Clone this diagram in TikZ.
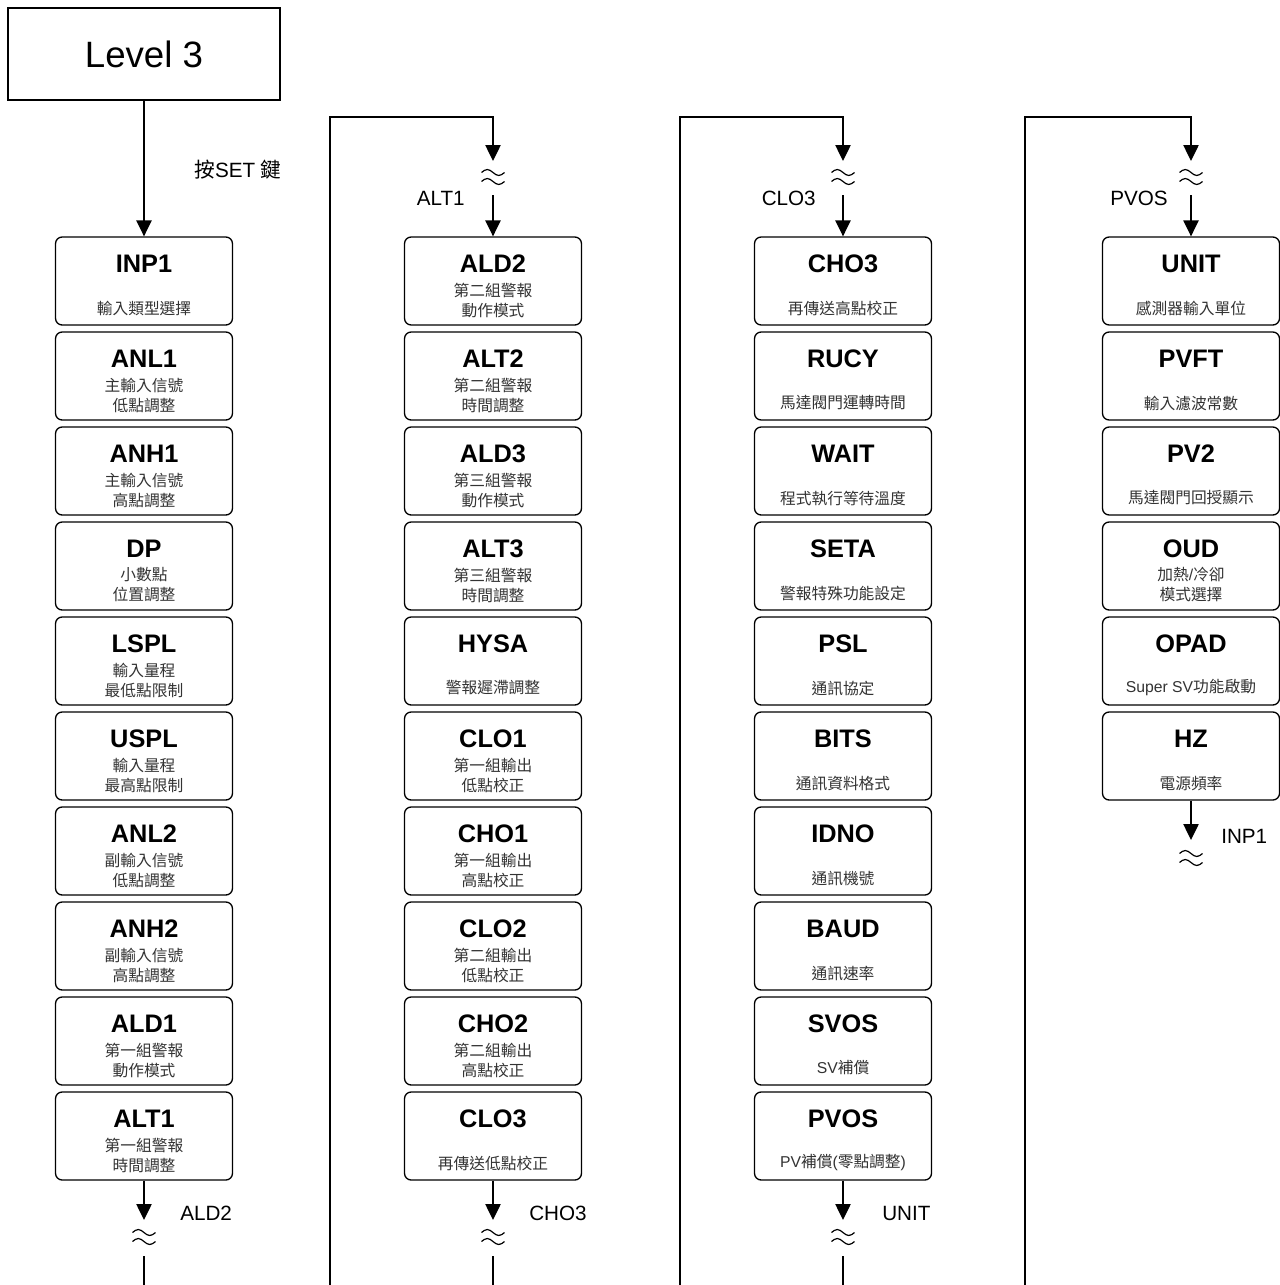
\documentclass[tikz,border=0pt]{standalone}
\usepackage{fontspec}
\setmainfont{Liberation Sans}
\newfontfamily\cjk{Noto Sans CJK TC}
\usetikzlibrary{arrows.meta}
\tikzset{
 boxst/.style={draw, line width=1pt, rounded corners=5pt, minimum width=132.75pt, minimum height=66pt, inner sep=0pt, fill=white},
 titlest/.style={font=\fontsize{19}{22}\selectfont\bfseries, inner sep=0pt},
 subst/.style={font=\fontsize{11.8}{15}\selectfont, text=black!80, align=center, inner sep=0pt},
 lab/.style={font=\fontsize{15.5}{18}\selectfont, inner sep=0pt},
 conn/.style={line width=1pt},
 arr/.style={line width=1pt, -{Triangle[width=11.5pt,length=12pt]}},
 wv/.style={line width=0.9pt},
}
% one-line subtitle box
\newcommand\boxA[5]{%
 \node[boxst] (#1) at (#2,#3+44) {};
 \node[titlest] (#1-t) at (#2,#3+27) {#4};
 \node[subst] (#1-s) at (#2,#3+71) {#5};
}
% two-line subtitle box
\newcommand\boxB[5]{%
 \node[boxst] (#1) at (#2,#3+44) {};
 \node[titlest] (#1-t) at (#2,#3+27) {#4};
 \node[subst] (#1-s) at (#2,#3+63) {#5};
}
\newcommand\wvy[3]{%
 \coordinate (#1) at (#2,#3);
 \draw[wv] ([shift={(-11.5,-4.5)}]#1) sin ++(5.75,-3) cos ++(5.75,3) sin ++(5.75,3) cos ++(5.75,-3);
 \draw[wv] ([shift={(-11.5,4.5)}]#1) sin ++(5.75,-3) cos ++(5.75,3) sin ++(5.75,3) cos ++(5.75,-3);
}
\begin{document}
\begin{tikzpicture}[x=0.75pt,y=-0.75pt]
\useasboundingbox (0,0) rectangle (1280,1285);
% title
\node[draw, line width=1pt, minimum width=204pt, minimum height=69pt, inner sep=0pt,
      font=\fontsize{27.5}{30}\selectfont] (lvl) at (144,54) {Level 3};
\node[lab] (setlab) at (238,170) {\cjk 按\normalfont SET \cjk 鍵};

% column 1
\boxA{inp1}{144}{237}{INP1}{\cjk 輸入類型選擇}
\boxB{anl1}{144}{332}{ANL1}{\cjk 主輸入信號\\\cjk 低點調整}
\boxB{anh1}{144}{427}{ANH1}{\cjk 主輸入信號\\\cjk 高點調整}
\boxB{dp}{144}{522}{DP}{\cjk 小數點\\\cjk 位置調整}
\boxB{lspl}{144}{617}{LSPL}{\cjk 輸入量程\\\cjk 最低點限制}
\boxB{uspl}{144}{712}{USPL}{\cjk 輸入量程\\\cjk 最高點限制}
\boxB{anl2}{144}{807}{ANL2}{\cjk 副輸入信號\\\cjk 低點調整}
\boxB{anh2}{144}{902}{ANH2}{\cjk 副輸入信號\\\cjk 高點調整}
\boxB{ald1}{144}{997}{ALD1}{\cjk 第一組警報\\\cjk 動作模式}
\boxB{alt1}{144}{1092}{ALT1}{\cjk 第一組警報\\\cjk 時間調整}

% column 2
\boxB{ald2}{493}{237}{ALD2}{\cjk 第二組警報\\\cjk 動作模式}
\boxB{alt2}{493}{332}{ALT2}{\cjk 第二組警報\\\cjk 時間調整}
\boxB{ald3}{493}{427}{ALD3}{\cjk 第三組警報\\\cjk 動作模式}
\boxB{alt3}{493}{522}{ALT3}{\cjk 第三組警報\\\cjk 時間調整}
\boxA{hysa}{493}{617}{HYSA}{\cjk 警報遲滯調整}
\boxB{clo1}{493}{712}{CLO1}{\cjk 第一組輸出\\\cjk 低點校正}
\boxB{cho1}{493}{807}{CHO1}{\cjk 第一組輸出\\\cjk 高點校正}
\boxB{clo2}{493}{902}{CLO2}{\cjk 第二組輸出\\\cjk 低點校正}
\boxB{cho2}{493}{997}{CHO2}{\cjk 第二組輸出\\\cjk 高點校正}
\boxA{clo3}{493}{1092}{CLO3}{\cjk 再傳送低點校正}

% column 3
\boxA{cho3}{843}{237}{CHO3}{\cjk 再傳送高點校正}
\boxA{rucy}{843}{332}{RUCY}{\cjk 馬達閥門運轉時間}
\boxA{wait}{843}{427}{WAIT}{\cjk 程式執行等待溫度}
\boxA{seta}{843}{522}{SETA}{\cjk 警報特殊功能設定}
\boxA{psl}{843}{617}{PSL}{\cjk 通訊協定}
\boxA{bits}{843}{712}{BITS}{\cjk 通訊資料格式}
\boxA{idno}{843}{807}{IDNO}{\cjk 通訊機號}
\boxA{baud}{843}{902}{BAUD}{\cjk 通訊速率}
\boxA{svos}{843}{997}{SVOS}{SV\cjk 補償}
\boxA{pvos}{843}{1092}{PVOS}{PV\cjk 補償\normalfont(\cjk 零點調整\normalfont)}

% column 4
\boxA{unit}{1191}{237}{UNIT}{\cjk 感測器輸入單位}
\boxA{pvft}{1191}{332}{PVFT}{\cjk 輸入濾波常數}
\boxA{pv2}{1191}{427}{PV2}{\cjk 馬達閥門回授顯示}
\boxB{oud}{1191}{522}{OUD}{\cjk 加熱\normalfont/\cjk 冷卻\\\cjk 模式選擇}
\boxA{opad}{1191}{617}{OPAD}{Super SV\cjk 功能啟動}
\boxA{hz}{1191}{712}{HZ}{\cjk 電源頻率}

% Level 3 -> INP1
\draw[arr] (lvl) -- (inp1);

% bottoms of columns 1-3
\coordinate (b1t) at (144,1220); \wvy{b1w}{144}{1237}
\coordinate (b1a) at (144,1256); \coordinate (b1b) at (144,1285);
\draw[arr] (alt1) -- (b1t); \draw[conn] (b1a) -- (b1b);
\node[lab, anchor=west] (l-ald2) at (180,1213) {ALD2};

\coordinate (b2t) at (493,1220); \wvy{b2w}{493}{1237}
\coordinate (b2a) at (493,1256); \coordinate (b2b) at (493,1285);
\draw[arr] (clo3) -- (b2t); \draw[conn] (b2a) -- (b2b);
\node[lab, anchor=west] (l-cho3) at (529,1213) {CHO3};

\coordinate (b3t) at (843,1220); \wvy{b3w}{843}{1237}
\coordinate (b3a) at (843,1256); \coordinate (b3b) at (843,1285);
\draw[arr] (pvos) -- (b3t); \draw[conn] (b3a) -- (b3b);
\node[lab, anchor=west] (l-unit) at (882,1213) {UNIT};

% bottom of column 4
\coordinate (b4t) at (1191,840); \wvy{b4w}{1191}{858}
\draw[arr] (hz) -- (b4t);
\node[lab, anchor=west] (l-inp1) at (1221,836) {INP1};

% tops of columns 2-4
\coordinate (s2) at (330,1285); \coordinate (s2c) at (330,117); \coordinate (s2e) at (493,117);
\coordinate (s2t) at (493,161); \wvy{t2w}{493}{177} \coordinate (s2a) at (493,195);
\draw[arr] (s2) -- (s2c) -- (s2e) -- (s2t);
\draw[arr] (s2a) -- (ald2);
\node[lab, anchor=east] (l-alt1) at (465,198) {ALT1};

\coordinate (s3) at (680,1285); \coordinate (s3c) at (680,117); \coordinate (s3e) at (843,117);
\coordinate (s3t) at (843,161); \wvy{t3w}{843}{177} \coordinate (s3a) at (843,195);
\draw[arr] (s3) -- (s3c) -- (s3e) -- (s3t);
\draw[arr] (s3a) -- (cho3);
\node[lab, anchor=east] (l-clo3) at (816,198) {CLO3};

\coordinate (s4) at (1025,1285); \coordinate (s4c) at (1025,117); \coordinate (s4e) at (1191,117);
\coordinate (s4t) at (1191,161); \wvy{t4w}{1191}{177} \coordinate (s4a) at (1191,195);
\draw[arr] (s4) -- (s4c) -- (s4e) -- (s4t);
\draw[arr] (s4a) -- (unit);
\node[lab, anchor=east] (l-pvos) at (1168,198) {PVOS};
\end{tikzpicture}
\end{document}
